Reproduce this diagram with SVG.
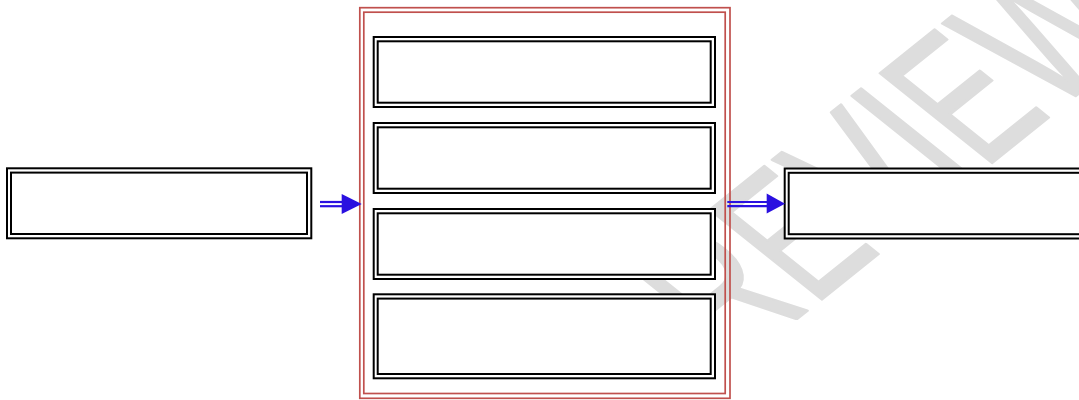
<svg xmlns="http://www.w3.org/2000/svg" width="1079" height="400" viewBox="0 0 1079 400">
  <style>
    .wm { font-family: "Liberation Sans", Arial, sans-serif; font-size: 230px; fill: #dddddd; stroke: #dddddd; stroke-width: 3; stroke-linejoin: round; }
    .red { fill: none; stroke: #c0504d; stroke-width: 1.7; }
    .outer { fill: #ffffff; stroke: #000000; stroke-width: 2; }
    .inner { fill: none; stroke: #000000; stroke-width: 2; }
    .conn { stroke: #2a10e0; stroke-width: 2.2; fill: none; }
    .head { fill: #2a10e0; stroke: none; }
  </style>
  <defs>
    <clipPath id="wmclip">
      <rect x="0" y="0" width="1079" height="320"/>
    </clipPath>
  </defs>
  <rect x="0" y="0" width="1079" height="400" fill="#ffffff"/>

  <g id="watermark" clip-path="url(#wmclip)">
    <text class="wm" transform="matrix(0.4596,-0.3679,0.707,0.566,665.8,424)" x="0" y="0">PREVIEW</text>
  </g>

  <g id="container">
    <rect class="red" x="359.8" y="7.7" width="370.2" height="390.6"/>
    <rect class="red" x="363.8" y="12.2" width="361.4" height="381.3"/>
  </g>

  <g id="node-left">
    <rect class="outer" x="7" y="168.3" width="304.3" height="70"/>
    <rect class="inner" x="11" y="172.6" width="296" height="61.4"/>
  </g>

  <g id="node-1">
    <rect class="outer" x="373.7" y="37" width="341.3" height="70"/>
    <rect class="inner" x="377.7" y="41.3" width="333" height="61.4"/>
  </g>
  <g id="node-2">
    <rect class="outer" x="373.7" y="123" width="341.3" height="70"/>
    <rect class="inner" x="377.7" y="127.3" width="333" height="61.4"/>
  </g>
  <g id="node-3">
    <rect class="outer" x="373.7" y="209" width="341.3" height="70"/>
    <rect class="inner" x="377.7" y="213.3" width="333" height="61.4"/>
  </g>
  <g id="node-4">
    <rect class="outer" x="373.7" y="294.3" width="341.3" height="84"/>
    <rect class="inner" x="377.7" y="298.6" width="333" height="75.4"/>
  </g>

  <g id="node-right">
    <rect class="outer" x="784.7" y="168.5" width="304" height="70"/>
    <rect class="inner" x="788.7" y="172.8" width="296" height="61.4"/>
  </g>

  <g id="connectors">
    <line class="conn" x1="320" y1="202" x2="343" y2="202"/>
    <line class="conn" x1="320" y1="206.2" x2="343" y2="206.2"/>
    <polygon class="head" points="341.7,194 361.7,204 341.7,214"/>
    <line class="conn" x1="727.3" y1="202" x2="768" y2="202"/>
    <line class="conn" x1="727.3" y1="206.2" x2="768" y2="206.2"/>
    <polygon class="head" points="766.7,193.5 785,203.7 766.7,213.5"/>
  </g>
</svg>
